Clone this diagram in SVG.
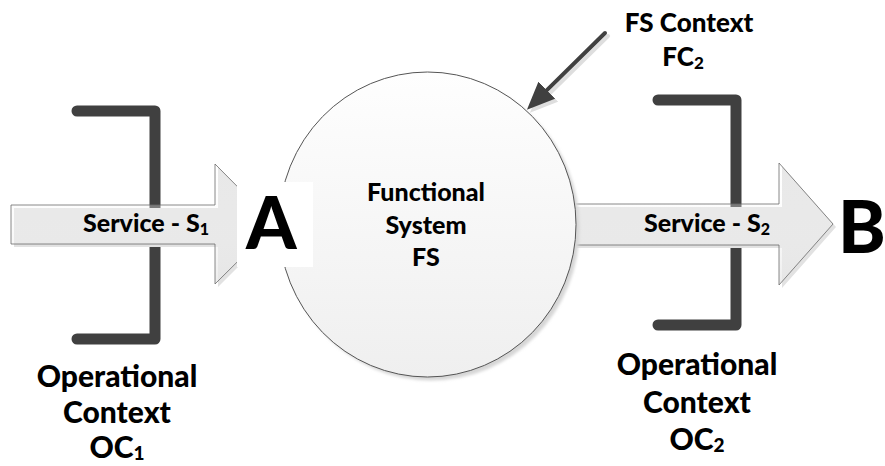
<svg xmlns="http://www.w3.org/2000/svg" width="885" height="466" viewBox="0 0 885 466">
  <style>
    .lbl { font-family: Lato, "Open Sans", "Liberation Sans", sans-serif; font-weight: 900; fill: #000; text-anchor: middle; }
    .big { font-family: Lato, "Liberation Sans", sans-serif; font-weight: 900; fill: #000; }
    .bracket { fill: none; stroke: #404040; stroke-width: 11; stroke-linecap: round; stroke-linejoin: round; }
    .blockArrow { fill: url(#arrowFill); stroke: #6a6a6a; stroke-width: 0.8; }
    .shadow { fill: #e2e2e2; stroke: none; }
  </style>
  <defs>
    <linearGradient id="arrowFill" x1="0" y1="0" x2="0" y2="1">
      <stop offset="0" stop-color="#ffffff" stop-opacity="0.2"/>
      <stop offset="0.45" stop-color="#f6f6f6" stop-opacity="0.35"/>
      <stop offset="1" stop-color="#e6e6e6" stop-opacity="0.75"/>
    </linearGradient>
    <linearGradient id="circleFill" x1="0" y1="0" x2="0" y2="1">
      <stop offset="0" stop-color="#fefefe"/>
      <stop offset="1" stop-color="#efefef"/>
    </linearGradient>
    <filter id="soft" x="-10%" y="-10%" width="120%" height="120%">
      <feGaussianBlur stdDeviation="1.5"/>
    </filter>
    <marker id="ptr" viewBox="0 0 28 24" refX="6" refY="12" markerWidth="28" markerHeight="24" markerUnits="userSpaceOnUse" orient="auto">
      <path d="M0,0 L28,12 L0,24 z" fill="#404040"/>
    </marker>
    <marker id="ptrShadow" viewBox="0 0 28 24" refX="6" refY="12" markerWidth="28" markerHeight="24" markerUnits="userSpaceOnUse" orient="auto">
      <path d="M0,0 L28,12 L0,24 z" fill="#dedede"/>
    </marker>
  </defs>

  <rect width="885" height="466" fill="#ffffff"/>

  <!-- operational context brackets -->
  <g id="oc1">
    <path class="bracket" d="M77,111 H155 V339 H77"/>
    <text class="lbl" x="117" y="387" font-size="30">Operational</text>
    <text class="lbl" x="117" y="423" font-size="30">Context</text>
    <text class="lbl" x="117" y="458" font-size="30">OC<tspan font-size="19" dy="2">1</tspan></text>
  </g>
  <g id="oc2">
    <path class="bracket" d="M658,100 H736 V325 H658"/>
    <text class="lbl" x="697" y="375" font-size="30">Operational</text>
    <text class="lbl" x="697" y="413" font-size="30">Context</text>
    <text class="lbl" x="697" y="450" font-size="30">OC<tspan font-size="19" dy="2">2</tspan></text>
  </g>

  <!-- connectors: service flows and context pointer -->
  <g id="connectors">
    <g id="service-s1">
      <path class="shadow" d="M14,208 H218 V167 L278,227 L218,287 V247 H14 z"/>
      <path class="blockArrow" d="M11,205 H215 V164 L275,224.5 L215,284 V244 H11 z"/>
      <text class="lbl" x="146" y="232" font-size="25">Service - S<tspan font-size="16" dy="3">1</tspan></text>
    </g>
    <g id="service-s2">
      <path class="shadow" d="M565,207 H782 V166 L836,227 L782,288 V248 H565 z"/>
      <path class="blockArrow" d="M562,204 H779 V163 L833,224 L779,285 V245 H562 z"/>
      <text class="lbl" x="707" y="232" font-size="25">Service - S<tspan font-size="16" dy="3">2</tspan></text>
    </g>
    <g id="context-pointer">
      <line x1="608" y1="36" x2="545.6" y2="97.4" stroke="#dedede" stroke-width="4" stroke-linecap="round" marker-end="url(#ptrShadow)"/>
      <line x1="605" y1="33" x2="542.6" y2="94.4" stroke="#404040" stroke-width="4" stroke-linecap="round" marker-end="url(#ptr)"/>
    </g>
  </g>

  <!-- functional system -->
  <g id="fs">
    <ellipse cx="431" cy="228" rx="148.5" ry="152.5" fill="#d6d6d6" filter="url(#soft)"/>
    <ellipse cx="427.5" cy="224.5" rx="148.5" ry="152.5" fill="url(#circleFill)" stroke="#555555" stroke-width="1"/>
    <text class="lbl" x="426" y="201" font-size="25">Functional</text>
    <text class="lbl" x="426" y="234" font-size="25">System</text>
    <text class="lbl" x="426" y="266" font-size="25">FS</text>
  </g>

  <!-- end points -->
  <g id="point-a">
    <rect x="237" y="182" width="76" height="85" fill="#ffffff"/>
    <text class="big" x="246" y="249" font-size="72">A</text>
  </g>
  <g id="point-b">
    <text class="big" x="838" y="253" font-size="72">B</text>
  </g>

  <g id="fs-context">
    <text class="lbl" x="689" y="32" font-size="26">FS Context</text>
    <text class="lbl" x="683" y="66" font-size="26">FC<tspan font-size="17" dy="3">2</tspan></text>
  </g>
</svg>
